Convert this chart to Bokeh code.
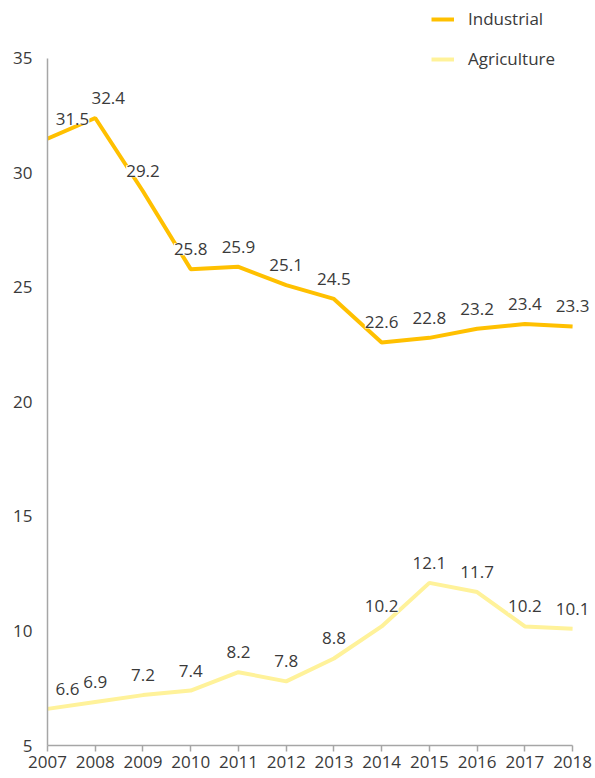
from bokeh.plotting import figure
from bokeh.models import ColumnDataSource, LabelSet, Legend, LegendItem, Range1d, FixedTicker
from bokeh.core.properties import value
from bokeh.embed import file_html
from bokeh.resources import INLINE

years = list(range(2007, 2019))
industrial = [31.5, 32.4, 29.2, 25.8, 25.9, 25.1, 24.5, 22.6, 22.8, 23.2, 23.4, 23.3]
agriculture = [6.6, 6.9, 7.2, 7.4, 8.2, 7.8, 8.8, 10.2, 12.1, 11.7, 10.2, 10.1]
y_ticks = [5, 10, 15, 20, 25, 30, 35]

# label horizontal nudges (screen px), styling only
ind_dx = [25, 13, 0, 0, 0, 0, 0, 0, 0, 0, 0, 0]
agr_dx = [20, 0, 0, 0, 0, 0, 0, 0, 0, 0, 0, 0]

IND_COLOR = "#FFC000"
AGR_COLOR = "#FFF29A"
TEXT_COLOR = "#3a3a3a"
AXIS_COLOR = "#a6a6a6"
FONT = "Open Sans"

p = figure(width=595, height=778, output_backend="svg", toolbar_location=None,
           x_range=Range1d(2007, 2018.48), y_range=Range1d(5, 37.53),
           min_border_left=47, min_border_right=0, min_border_top=0, min_border_bottom=33)
p.outline_line_color = None
p.xgrid.visible = False
p.ygrid.visible = False
p.background_fill_color = "white"
p.border_fill_color = "white"

src_i = ColumnDataSource(dict(x=years, y=industrial, t=[f"{v:.1f}" for v in industrial], dx=ind_dx))
src_a = ColumnDataSource(dict(x=years, y=agriculture, t=[f"{v:.1f}" for v in agriculture], dx=agr_dx))

r_i = p.line("x", "y", source=src_i, line_color=IND_COLOR, line_width=4)
r_a = p.line("x", "y", source=src_a, line_color=AGR_COLOR, line_width=4)

for src in (src_i, src_a):
    ls = LabelSet(x="x", y="y", text="t", source=src, x_offset="dx", y_offset=20,
                  text_align="center", text_baseline="middle",
                  text_font=value(FONT), text_font_size=value("17px"), text_color=TEXT_COLOR,
                  background_fill_color="white", background_fill_alpha=1.0)
    p.add_layout(ls)

p.xaxis.ticker = FixedTicker(ticks=years)
p.yaxis.ticker = FixedTicker(ticks=y_ticks)
p.xaxis.bounds = (2007, 2018)
p.yaxis.bounds = (5, 35)
for ax in (p.xaxis, p.yaxis):
    ax.axis_line_color = AXIS_COLOR
    ax.axis_line_width = 1.5
    ax.major_label_text_font = FONT
    ax.major_label_text_font_size = "17px"
    ax.major_label_text_color = TEXT_COLOR
    ax.minor_tick_line_color = None
p.xaxis.major_tick_line_color = AXIS_COLOR
p.xaxis.major_tick_line_width = 1.5
p.xaxis.major_tick_out = 6
p.xaxis.major_tick_in = 0
p.xaxis.major_label_standoff = 4
p.yaxis.major_tick_line_color = None
p.yaxis.major_tick_out = 0
p.yaxis.major_tick_in = 0
p.yaxis.major_label_standoff = 15

legend = Legend(items=[LegendItem(label="Industrial", renderers=[r_i]),
                       LegendItem(label="Agriculture", renderers=[r_a])],
                location=(384, 675), orientation="vertical",
                glyph_width=23, glyph_height=20, label_height=20, spacing=17,
                label_standoff=14, padding=0, margin=0,
                label_text_font=FONT, label_text_font_size="17px", label_text_color=TEXT_COLOR,
                border_line_color=None, background_fill_alpha=0)
p.add_layout(legend, "center")

open("out.html", "w").write(file_html(p, INLINE))
